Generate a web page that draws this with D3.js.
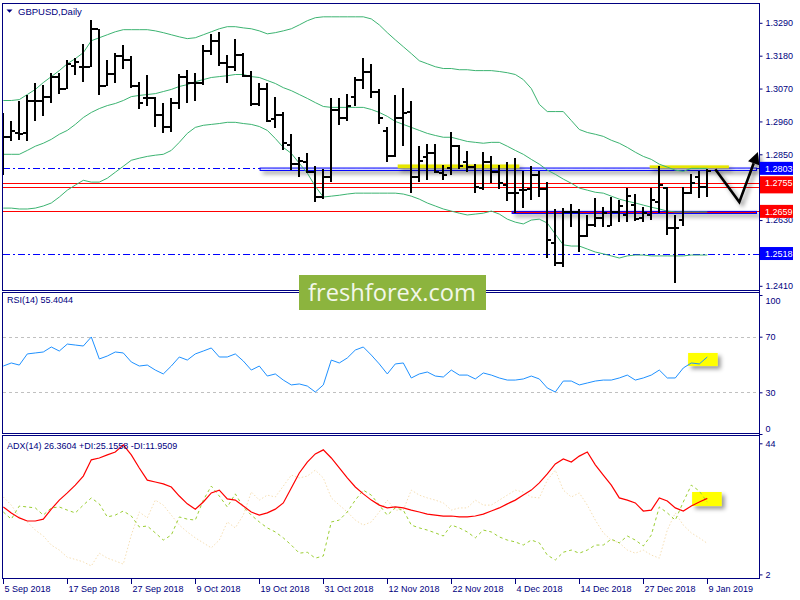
<!DOCTYPE html>
<html><head><meta charset="utf-8">
<script src="https://cdn.jsdelivr.net/npm/d3@7"></script>
<style>body{margin:0;background:#fff}svg{display:block}</style>
</head><body><svg id="c" width="800" height="600"></svg>
<script>
// ---------- DATA ----------
const dates = ["2018-09-05","2018-09-06","2018-09-07","2018-09-10","2018-09-11","2018-09-12","2018-09-13","2018-09-14","2018-09-17","2018-09-18","2018-09-19","2018-09-20","2018-09-21","2018-09-24","2018-09-25","2018-09-26","2018-09-27","2018-09-28",
"2018-10-01","2018-10-02","2018-10-03","2018-10-04","2018-10-05","2018-10-08","2018-10-09","2018-10-10","2018-10-11","2018-10-12","2018-10-15","2018-10-16","2018-10-17","2018-10-18","2018-10-19","2018-10-22","2018-10-23","2018-10-24","2018-10-25","2018-10-26","2018-10-29","2018-10-30","2018-10-31",
"2018-11-01","2018-11-02","2018-11-05","2018-11-06","2018-11-07","2018-11-08","2018-11-09","2018-11-12","2018-11-13","2018-11-14","2018-11-15","2018-11-16","2018-11-19","2018-11-20","2018-11-21","2018-11-22","2018-11-23","2018-11-26","2018-11-27","2018-11-28","2018-11-29","2018-11-30",
"2018-12-03","2018-12-04","2018-12-05","2018-12-06","2018-12-07","2018-12-10","2018-12-11","2018-12-12","2018-12-13","2018-12-14","2018-12-17","2018-12-18","2018-12-19","2018-12-20","2018-12-21","2018-12-24","2018-12-26","2018-12-27","2018-12-28","2018-12-31",
"2019-01-02","2019-01-03","2019-01-04","2019-01-07","2019-01-08","2019-01-09"];

const open = [1.2897,1.2907,1.2920,1.2920,1.3027,1.3030,1.3043,1.3110,1.3070,1.3147,1.3143,1.3143,1.3270,1.3080,1.3120,1.3180,1.3167,1.3077,1.3040,1.3040,1.2980,1.2940,1.3020,1.3110,1.3090,1.3087,1.3197,1.3230,1.3157,1.3143,1.3183,1.3113,1.3017,1.3070,1.2967,1.2980,1.2880,1.2817,1.2823,1.2790,1.2707,1.2773,1.2997,1.2970,1.3043,1.3097,1.3127,1.3057,1.2927,1.2843,1.2970,1.2993,1.2773,1.2840,1.2853,1.2787,1.2803,1.2877,1.2823,1.2807,1.2737,1.2823,1.2790,1.2747,1.2720,1.2730,1.2733,1.2780,1.2733,1.2553,1.2487,1.2657,1.2657,1.2577,1.2613,1.2637,1.2610,1.2657,1.2647,1.2680,1.2637,1.2647,1.2690,1.2737,1.2603,1.2630,1.2720,1.2773,1.2740];
const high = [1.2987,1.2960,1.3027,1.3047,1.3087,1.3083,1.3123,1.3123,1.3167,1.3173,1.3220,1.3300,1.3270,1.3167,1.3190,1.3217,1.3180,1.3093,1.3117,1.3043,1.3020,1.3040,1.3120,1.3133,1.3123,1.3217,1.3253,1.3260,1.3183,1.3237,1.3190,1.3130,1.3090,1.3090,1.3043,1.2993,1.2917,1.2840,1.2853,1.2810,1.2800,1.3037,1.3040,1.3053,1.3107,1.3173,1.3153,1.3070,1.2943,1.3047,1.3073,1.3030,1.2877,1.2883,1.2883,1.2813,1.2923,1.2880,1.2860,1.2817,1.2857,1.2843,1.2813,1.2823,1.2837,1.2793,1.2810,1.2793,1.2757,1.2667,1.2670,1.2683,1.2667,1.2647,1.2703,1.2673,1.2707,1.2697,1.2737,1.2717,1.2673,1.2737,1.2810,1.2740,1.2647,1.2740,1.2783,1.2793,1.2800];
const low = [1.2780,1.2893,1.2897,1.2893,1.2963,1.2977,1.3023,1.3053,1.3070,1.3117,1.3093,1.3143,1.3050,1.3080,1.3090,1.3137,1.3073,1.3000,1.3010,1.2940,1.2920,1.2923,1.3000,1.3023,1.3027,1.3083,1.3183,1.3147,1.3087,1.3130,1.3110,1.3013,1.3010,1.2957,1.2937,1.2863,1.2797,1.2773,1.2787,1.2690,1.2700,1.2757,1.2947,1.2960,1.3010,1.3070,1.3040,1.2953,1.2823,1.2840,1.2877,1.2720,1.2757,1.2763,1.2787,1.2763,1.2780,1.2800,1.2790,1.2720,1.2730,1.2753,1.2733,1.2693,1.2653,1.2670,1.2697,1.2707,1.2503,1.2477,1.2473,1.2607,1.2523,1.2573,1.2607,1.2607,1.2610,1.2623,1.2623,1.2627,1.2623,1.2630,1.2653,1.2580,1.2420,1.2610,1.2717,1.2703,1.2707];
const close = [1.2907,1.2927,1.2917,1.3027,1.3027,1.3043,1.3110,1.3067,1.3153,1.3160,1.3143,1.3270,1.3080,1.3120,1.3180,1.3167,1.3077,1.3020,1.3040,1.2980,1.2940,1.3020,1.3110,1.3090,1.3087,1.3197,1.3230,1.3157,1.3143,1.3183,1.3113,1.3017,1.3070,1.2960,1.2980,1.2887,1.2817,1.2827,1.2790,1.2707,1.2773,1.2997,1.2970,1.3010,1.3097,1.3127,1.3057,1.2970,1.2843,1.2973,1.2987,1.2773,1.2827,1.2853,1.2790,1.2780,1.2877,1.2810,1.2807,1.2740,1.2823,1.2790,1.2753,1.2720,1.2720,1.2730,1.2780,1.2733,1.2563,1.2487,1.2657,1.2657,1.2577,1.2613,1.2637,1.2653,1.2657,1.2677,1.2710,1.2633,1.2653,1.2697,1.2747,1.2603,1.2603,1.2720,1.2753,1.2740,1.2793];

const bbUpper = [1.3030,1.3030,1.3033,1.3050,1.3067,1.3090,1.3110,1.3130,1.3153,1.3170,1.3190,1.3230,1.3240,1.3250,1.3260,1.3267,1.3267,1.3267,1.3267,1.3263,1.3257,1.3250,1.3243,1.3237,1.3240,1.3250,1.3260,1.3270,1.3277,1.3277,1.3273,1.3270,1.3263,1.3253,1.3257,1.3263,1.3270,1.3283,1.3297,1.3307,1.3310,1.3310,1.3310,1.3310,1.3310,1.3310,1.3303,1.3283,1.3257,1.3233,1.3210,1.3187,1.3163,1.3153,1.3143,1.3137,1.3137,1.3133,1.3133,1.3130,1.3130,1.3130,1.3127,1.3123,1.3117,1.3100,1.3070,1.3017,1.2993,1.2993,1.2993,1.2963,1.2933,1.2923,1.2917,1.2910,1.2897,1.2887,1.2873,1.2857,1.2843,1.2833,1.2817,1.2807,1.2797,1.2793,1.2803,1.2803,1.2803];
const bbMiddle = [1.2850,1.2850,1.2850,1.2863,1.2877,1.2887,1.2900,1.2917,1.2930,1.2950,1.2973,1.2990,1.3003,1.3013,1.3020,1.3030,1.3043,1.3047,1.3050,1.3053,1.3060,1.3067,1.3077,1.3083,1.3093,1.3100,1.3107,1.3110,1.3113,1.3117,1.3117,1.3110,1.3107,1.3097,1.3087,1.3073,1.3063,1.3050,1.3037,1.3023,1.3010,1.3007,1.3007,1.3007,1.3007,1.3007,1.3000,1.2990,1.2977,1.2960,1.2950,1.2940,1.2930,1.2920,1.2913,1.2907,1.2907,1.2900,1.2893,1.2890,1.2887,1.2890,1.2890,1.2877,1.2863,1.2850,1.2833,1.2817,1.2797,1.2783,1.2767,1.2753,1.2737,1.2730,1.2723,1.2720,1.2710,1.2700,1.2693,1.2687,1.2680,1.2673,1.2667,1.2660,1.2657,1.2657,1.2657,1.2657,1.2657];
const bbLower = [1.2670,1.2670,1.2667,1.2667,1.2670,1.2677,1.2687,1.2707,1.2730,1.2747,1.2763,1.2757,1.2757,1.2770,1.2790,1.2810,1.2830,1.2837,1.2843,1.2847,1.2850,1.2863,1.2890,1.2920,1.2940,1.2947,1.2950,1.2953,1.2957,1.2957,1.2953,1.2950,1.2943,1.2930,1.2903,1.2873,1.2853,1.2820,1.2787,1.2743,1.2707,1.2710,1.2713,1.2717,1.2720,1.2720,1.2720,1.2720,1.2720,1.2720,1.2717,1.2710,1.2700,1.2687,1.2677,1.2667,1.2660,1.2653,1.2647,1.2650,1.2653,1.2660,1.2650,1.2633,1.2623,1.2617,1.2630,1.2633,1.2620,1.2583,1.2547,1.2543,1.2543,1.2533,1.2523,1.2517,1.2510,1.2503,1.2510,1.2513,1.2513,1.2510,1.2510,1.2510,1.2510,1.2510,1.2513,1.2513,1.2513];

const rsi = [48.9,51.1,49.6,57.6,58.3,59.0,62.6,59.7,64.7,64.0,63.3,69.8,54.0,56.1,59.0,58.3,51.8,48.9,49.6,46.0,43.2,48.9,55.4,53.2,57.6,59.7,61.9,55.4,55.4,57.6,52.5,46.0,48.9,41.7,43.2,38.8,35.3,36.0,34.5,30.2,35.3,53.2,51.1,54.7,60.4,62.6,56.8,50.4,43.2,50.4,51.1,40.3,43.2,44.6,41.7,41.0,46.0,42.4,42.4,39.6,43.9,42.4,40.3,38.8,38.8,39.6,41.7,39.6,33.1,30.2,38.1,38.1,35.3,36.7,38.1,38.8,38.8,40.3,42.4,38.8,40.3,42.4,46.0,40.3,40.3,47.5,51.1,50.4,55.4];

const adx = [23.6,21.7,20.1,19.1,19.1,19.7,22.9,25.8,28.1,30.6,33.5,38.7,39.3,40.3,41.2,43.5,40.3,36.1,32.2,31.6,31.0,30.0,27.1,24.6,22.9,25.2,28.1,29.0,26.2,25.8,23.9,22.0,21.0,21.7,22.9,24.9,29.7,34.5,38.0,40.6,41.9,39.3,36.1,32.9,30.0,27.8,25.8,24.2,23.3,23.6,23.3,22.6,22.0,21.3,21.0,20.7,20.7,20.4,20.4,20.7,21.3,22.3,23.3,24.6,25.8,27.4,29.0,31.3,34.2,37.4,39.0,38.0,39.9,41.2,37.1,33.8,30.6,26.5,25.8,24.9,22.3,22.6,26.5,25.5,23.3,22.3,23.9,25.2,26.36];
const plusDI = [22.0,19.7,23.9,23.6,23.3,21.0,23.3,23.6,22.6,21.7,24.2,26.5,24.6,20.4,21.0,22.3,20.7,17.2,17.5,15.3,13.0,14.6,20.4,19.7,19.4,25.8,30.3,27.1,23.6,27.8,23.6,21.0,18.8,16.9,15.6,13.7,11.4,8.8,9.1,7.2,7.9,18.8,19.4,22.0,25.8,29.0,27.4,24.2,21.0,23.3,22.6,17.8,16.9,16.2,15.3,14.3,17.8,16.9,15.6,13.7,16.2,15.6,14.0,13.0,12.4,11.4,13.0,12.1,8.2,6.6,9.1,9.8,8.8,9.8,11.4,11.4,13.3,12.1,14.3,13.0,11.1,14.6,23.6,21.7,19.4,25.2,30.6,28.7,25.16];
const minusDI = [26.8,24.2,20.4,18.8,16.2,14.3,11.4,9.8,7.5,6.8,6.0,4.7,8.8,7.2,6.3,5.3,14.6,22.0,20.1,25.8,24.2,21.0,17.8,15.6,13.7,12.1,10.5,13.0,18.8,16.9,21.0,28.4,25.8,27.4,26.8,30.3,33.8,32.9,33.5,35.4,32.9,26.5,24.2,22.0,19.4,17.8,18.8,22.0,25.8,22.6,22.6,29.0,27.4,26.5,25.8,24.9,22.6,23.3,23.3,25.8,24.2,24.2,25.8,27.4,29.0,28.4,26.8,26.5,32.2,35.4,29.0,26.8,28.1,24.2,19.4,15.3,13.0,12.1,9.8,8.8,9.8,8.2,7.2,16.2,21.7,17.8,15.3,13.7,11.95];

// visible price-axis labels (1.2740 and 1.2520 are hidden behind line tags in the reference)
const priceTicks = [1.3290,1.3180,1.3070,1.2960,1.2850,1.2630,1.2410];
const rsiTicks = [100,70,30,0];
const rsiLevels = [70,30];
const adxTicks = [44,2];
const dateTickIdx = [0,8,16,24,32,40,48,56,64,72,80,88];

const dashDotLevels = [1.2803,1.2518];
const redLevels = [1.2755,1.2741,1.2659];
const labelBlue = [1.2803,1.2518];
const labelRed = [1.2755,1.2659];
const labelRedHidden = [1.2741];
const blueZone = {from:32.1, lo:1.2796, hi:1.2804};
const redZone = {from:63.6, lo:1.2652, hi:1.2659};
const yellowMarks = [{x0:49.3,x1:64.5,lo:1.2803,hi:1.2816},{x0:80.8,x1:90.7,lo:1.2803,hi:1.2813}];
const arrowIdx = [89.0, 92.0, 93.8];
const arrowPrice = [1.2800, 1.2690, 1.2820];
const rsiBox = {x0:85.6,x1:89.3,lo:48.9,hi:58.3};
const adxBox = {x0:86.1,x1:89.8,lo:23.9,hi:28.4};

const titleText = "GBPUSD,Daily";
const rsiText = "RSI(14) 55.4044";
const adxText = "ADX(14) 26.3604 +DI:25.1558 -DI:11.9509";
const watermark = "freshforex.com";

// ---------- DRAW ----------
const svg = d3.select('#c');
const navy = '#000080';
const font = "Tahoma, 'Liberation Sans', Arial, sans-serif";
const AX = 759.5;

const x = d3.scaleLinear().domain([0,88]).range([3.3,707.3]);
const yP = d3.scaleLinear().domain([1.2410,1.3290]).range([285.8,22.8]);
const yR = d3.scaleLinear().domain([0,100]).range([434,295]);
const yA = d3.scaleLinear().domain([2,44]).range([574.4,443.3]);

const defs = svg.append('defs');
function clip(id,x0,y0,w,h){defs.append('clipPath').attr('id',id).append('rect').attr('x',x0).attr('y',y0).attr('width',w).attr('height',h);}
clip('cm',3,4,756,286.5);
clip('cr',3,293,756,140.5);
clip('ca',3,436,756,142.5);
const f = defs.append('filter').attr('id','sh').attr('filterUnits','userSpaceOnUse')
  .attr('x',0).attr('y',0).attr('width',800).attr('height',600);
f.append('feGaussianBlur').attr('in','SourceAlpha').attr('stdDeviation',2.2);
f.append('feOffset').attr('dx',3).attr('dy',3).attr('result','b');
f.append('feFlood').attr('flood-color','#000').attr('flood-opacity',0.4);
f.append('feComposite').attr('in2','b').attr('operator','in');
const fm = f.append('feMerge'); fm.append('feMergeNode'); fm.append('feMergeNode').attr('in','SourceGraphic');

svg.append('rect').attr('width',800).attr('height',600).attr('fill','#fff');

// ----- main panel -----
const gm = svg.append('g').attr('clip-path','url(#cm)');
dashDotLevels.forEach(v=>{
  gm.append('line').attr('x1',3).attr('x2',AX).attr('y1',Math.round(yP(v))+0.5).attr('y2',Math.round(yP(v))+0.5)
    .attr('stroke','#0000ff').attr('stroke-width',1).attr('stroke-dasharray','7,3,2,3');
});
redLevels.forEach(v=>{
  gm.append('line').attr('x1',3).attr('x2',AX).attr('y1',Math.round(yP(v))+0.5).attr('y2',Math.round(yP(v))+0.5)
    .attr('stroke','#ff0000').attr('stroke-width',1);
});
gm.append('rect').attr('x',x(blueZone.from)).attr('y',yP(blueZone.hi)).attr('width',AX-3-x(blueZone.from))
  .attr('height',yP(blueZone.lo)-yP(blueZone.hi)).attr('fill','#e8ecff').attr('stroke','#0000ff').attr('stroke-width',1).attr('filter','url(#sh)');
gm.append('rect').attr('x',x(redZone.from)).attr('y',yP(redZone.hi)).attr('width',AX-3-x(redZone.from))
  .attr('height',yP(redZone.lo)-yP(redZone.hi)).attr('fill','#ff0000').attr('stroke','#0000ff').attr('stroke-width',1).attr('filter','url(#sh)');
yellowMarks.forEach(m=>{
  gm.append('rect').attr('x',x(m.x0)).attr('y',yP(m.hi)).attr('width',x(m.x1)-x(m.x0)).attr('height',yP(m.lo)-yP(m.hi))
    .attr('fill','#e6e600').attr('filter','url(#sh)');
});
const lineP = arr => d3.line().x((d,i)=>x(i)).y(d=>yP(d))(arr);
[bbUpper,bbMiddle,bbLower].forEach(a=>{
  gm.append('path').attr('d',lineP(a)).attr('fill','none').attr('stroke','#3cb371').attr('stroke-width',1);
});
const gb = gm.append('g').attr('fill','#000').attr('shape-rendering','crispEdges');
dates.forEach((d,i)=>{
  const X = Math.round(x(i))-1;
  const yh = Math.round(yP(high[i])), yl = Math.round(yP(low[i]));
  gb.append('rect').attr('x',X).attr('y',yh).attr('width',2).attr('height',Math.max(1,yl-yh));
  gb.append('rect').attr('x',X-3).attr('y',Math.round(yP(open[i]))-1).attr('width',3).attr('height',2);
  gb.append('rect').attr('x',X+2).attr('y',Math.round(yP(close[i]))-1).attr('width',3).attr('height',2);
});

// arrow
const ga = svg.append('g').attr('filter','url(#sh)');
const pts = arrowIdx.map((v,i)=>[x(v),yP(arrowPrice[i])]);
const last = pts[pts.length-1], prev = pts[pts.length-2];
const dx = last[0]-prev[0], dy = last[1]-prev[1], L = Math.hypot(dx,dy);
const ux = dx/L, uy = dy/L, px = -uy, py = ux;
const tip = [last[0]+ux*12, last[1]+uy*12];
ga.append('path').attr('d',d3.line()(pts)).attr('fill','none').attr('stroke','#000').attr('stroke-width',2.6).attr('stroke-linejoin','miter');
ga.append('path').attr('d',d3.line()([tip,[last[0]+px*6,last[1]+py*6],[last[0]-px*6,last[1]-py*6]])+'Z').attr('fill','#000');

// ----- RSI panel -----
const gr = svg.append('g').attr('clip-path','url(#cr)');
rsiLevels.forEach(v=>{
  gr.append('line').attr('x1',3).attr('x2',AX).attr('y1',Math.round(yR(v))+0.5).attr('y2',Math.round(yR(v))+0.5)
    .attr('stroke','#c0c0c0').attr('stroke-dasharray','3,3');
});
gr.append('rect').attr('x',x(rsiBox.x0)).attr('y',yR(rsiBox.hi)).attr('width',x(rsiBox.x1)-x(rsiBox.x0)).attr('height',yR(rsiBox.lo)-yR(rsiBox.hi))
  .attr('fill','#ffff00').attr('filter','url(#sh)');
gr.append('path').attr('d',d3.line().x((d,i)=>x(i)).y(d=>yR(d))(rsi)).attr('fill','none').attr('stroke','#1e90ff').attr('stroke-width',1);

// ----- ADX panel -----
const gd = svg.append('g').attr('clip-path','url(#ca)');
const lineA = arr => d3.line().x((d,i)=>x(i)).y(d=>yA(d))(arr);
gd.append('rect').attr('x',x(adxBox.x0)).attr('y',yA(adxBox.hi)).attr('width',x(adxBox.x1)-x(adxBox.x0)).attr('height',yA(adxBox.lo)-yA(adxBox.hi))
  .attr('fill','#ffff00').attr('filter','url(#sh)');
gd.append('path').attr('d',lineA(minusDI)).attr('fill','none').attr('stroke','#f5deb3').attr('stroke-width',1).attr('stroke-dasharray','1.5,2');
gd.append('path').attr('d',lineA(plusDI)).attr('fill','none').attr('stroke','#9acd32').attr('stroke-width',1).attr('stroke-dasharray','3,3');
gd.append('path').attr('d',lineA(adx)).attr('fill','none').attr('stroke','#ff0000').attr('stroke-width',1.2);

// ----- frames -----
const fr = svg.append('g').attr('stroke',navy).attr('stroke-width',1).attr('fill','none').attr('shape-rendering','crispEdges');
[[3.5,290.5],[292.5,433.5],[435.5,578.5]].forEach(([t,b])=>{
  fr.append('path').attr('d',`M${AX},${t}H2.5V${b}H${AX}`);
});
fr.append('line').attr('x1',AX).attr('x2',AX).attr('y1',3).attr('y2',579);

// ----- axes -----
function rightAxis(scale, vals, fmt){
  const g = svg.append('g').attr('transform',`translate(${AX},0)`)
    .call(d3.axisRight(scale).tickValues(vals).tickSize(3).tickPadding(3).tickFormat(fmt));
  g.select('.domain').remove();
  g.selectAll('line').attr('stroke',navy);
  g.selectAll('text').attr('fill',navy).attr('font-family',font).attr('font-size',9);
  return g;
}
rightAxis(yP, priceTicks, d3.format('.4f'));
const ra = rightAxis(yR, rsiTicks, d3.format('d'));
ra.selectAll('.tick text').attr('dy',d=> d===100 ? '0.9em' : d===0 ? '-0.25em' : '0.32em');
rightAxis(yA, adxTicks, d3.format('d'));

// level tags
function tag(v,col,withText){
  const yy = yP(v);
  svg.append('rect').attr('x',760).attr('y',yy-6.5).attr('width',33).attr('height',13).attr('fill',col);
  if(withText) svg.append('text').attr('x',765).attr('y',yy+3.3).attr('fill','#fff').attr('font-family',font).attr('font-size',9).text(d3.format('.4f')(v));
}
labelRedHidden.forEach(v=>tag(v,'#ff0000',false));
labelRed.forEach(v=>tag(v,'#ff0000',true));
labelBlue.forEach(v=>tag(v,'#0000ff',true));

// date axis
const parse = d3.timeParse('%Y-%m-%d'), fmtD = d3.timeFormat('%-d %b %Y');
const gx = svg.append('g');
dateTickIdx.forEach(i=>{
  const X = Math.round(x(i))+0.5;
  gx.append('line').attr('x1',X).attr('x2',X).attr('y1',578.5).attr('y2',584).attr('stroke',navy);
  gx.append('text').attr('x',X+1).attr('y',591.5).attr('fill',navy).attr('font-family',font).attr('font-size',9).text(fmtD(parse(dates[i])));
});

// titles
svg.append('path').attr('d','M6.5,9.5H12.5L9.5,12.8Z').attr('fill',navy);
svg.append('text').attr('x',18).attr('y',15).attr('fill',navy).attr('font-family',font).attr('font-size',9.5).text(titleText);
svg.append('text').attr('x',7).attr('y',303).attr('fill',navy).attr('font-family',font).attr('font-size',9).text(rsiText);
svg.append('text').attr('x',7).attr('y',449).attr('fill',navy).attr('font-family',font).attr('font-size',9).text(adxText);

// watermark
svg.append('rect').attr('x',299).attr('y',275).attr('width',187).attr('height',35).attr('fill','#8cb43e');
svg.append('text').attr('x',308).attr('y',301).attr('fill','#f3f7ea').attr('font-family',"'Open Sans', sans-serif")
  .attr('font-size',24.5).attr('textLength',168).attr('lengthAdjust','spacingAndGlyphs').text(watermark);
</script></body></html>
